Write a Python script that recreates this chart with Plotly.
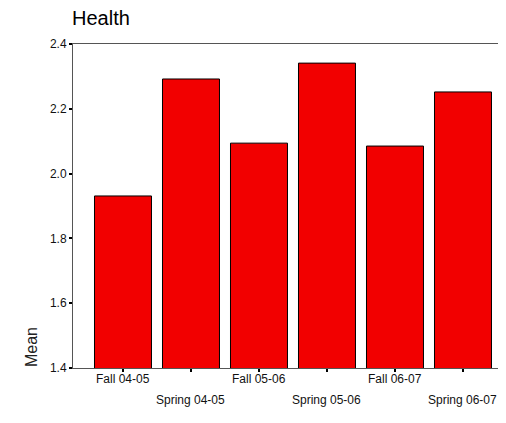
import plotly.graph_objects as go

categories = ["Fall 04-05", "Spring 04-05", "Fall 05-06", "Spring 05-06", "Fall 06-07", "Spring 06-07"]
means = [1.931, 2.292, 2.094, 2.341, 2.085, 2.252]
y_ticks = [1.4, 1.6, 1.8, 2.0, 2.2, 2.4]

# page places figure at an 8px body offset
W, H = 490, 400
L, R, T, B = 65, 0, 36, 40
font_family = "Liberation Sans, Arial, sans-serif"

fig = go.Figure()
fig.add_trace(go.Bar(
    x=list(range(len(categories))), y=means,
    marker=dict(color="#F20000", line=dict(color="#000000", width=1)),
))

annotations = []
for i, c in enumerate(categories):
    annotations.append(dict(
        x=i, y=0, xref="x", yref="paper", text=c, showarrow=False,
        xanchor="center", yanchor="middle",
        yshift=-11 if i % 2 == 0 else -32,
        font=dict(family=font_family, size=12, color="#111111"),
    ))
annotations.append(dict(
    x=-42 / (W - L - R), y=(360 - 339) / (H - T - B), xref="paper", yref="paper",
    text="Mean", textangle=-90, showarrow=False, xanchor="center", yanchor="middle",
    font=dict(family=font_family, size=16, color="#222222"),
))

fig.update_layout(
    width=W, height=H,
    margin=dict(l=L, r=R, t=T, b=B),
    paper_bgcolor="white", plot_bgcolor="white",
    showlegend=False,
    bargap=0.162,
    title=dict(text="Health", x=64 / W, xanchor="left", xref="container",
               y=1 - 10 / H, yanchor="middle", yref="container",
               font=dict(family=font_family, size=20, color="#000000")),
    annotations=annotations,
    xaxis=dict(
        range=[-0.735, 5.515], tickmode="array", tickvals=list(range(len(categories))),
        showticklabels=False, ticks="outside", ticklen=3, tickwidth=2, tickcolor="#000000",
        showline=True, linecolor="#555555", linewidth=1, mirror=True,
        showgrid=False, zeroline=False, fixedrange=True,
    ),
    yaxis=dict(
        range=[1.4, 2.4], tickmode="array", tickvals=y_ticks,
        ticktext=[f"{v:.1f}" for v in y_ticks],
        ticks="outside", ticklen=3, tickwidth=2, tickcolor="#000000",
        showline=True, linecolor="#555555", linewidth=1,
        showgrid=False, zeroline=False,
        tickfont=dict(family=font_family, size=12, color="#111111"),
    ),
)

fig.write_html("out.html")
